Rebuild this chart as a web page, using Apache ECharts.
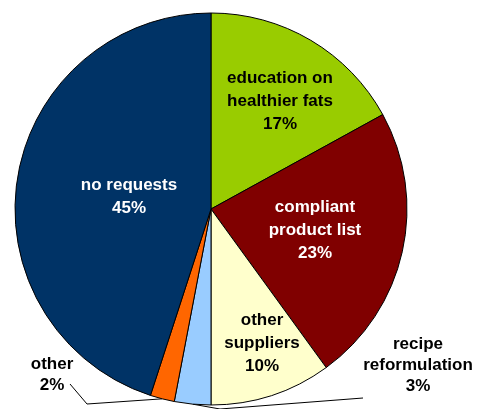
<!DOCTYPE html>
<html>
<head>
<meta charset="utf-8">
<script src="https://cdn.jsdelivr.net/npm/echarts@6/dist/echarts.min.js"></script>
<style>
  html, body { margin: 0; padding: 0; background: #fff; }
  #chart { width: 484px; height: 409px; }
</style>
</head>
<body>
<div id="chart"></div>
<script>
// slices clockwise from 12 o'clock
const categories = [
  'education on\nhealthier fats',
  'compliant\nproduct list',
  'other\nsuppliers',
  'recipe\nreformulation',
  'other',
  'no requests'
]
const shares = [17, 23, 10, 3, 2, 45]
const colors = ['#99cc00', '#800000', '#ffffcc', '#99ccff', '#ff6600', '#003366']
const textColors = ['#000', '#fff', '#000', '#000', '#000', '#fff']
const outside = [false, false, false, true, true, false]

// where each label sits (px), and the bend points of the two leader lines
const labelPos = [[280, 101], [315, 230], [262, 343], [418, 365], [52, 375], [129, 197]]
const linePts = { 3: [[220, 409], [363, 398]], 4: [[87, 404], [70, 384]] }

const chart = echarts.init(document.getElementById('chart'))

chart.setOption({
  animation: false,
  series: [{
    type: 'pie',
    center: [211, 209],
    radius: 196,
    startAngle: 90,
    clockwise: true,
    itemStyle: { borderColor: '#000', borderWidth: 1 },
    label: {
      fontFamily: 'Liberation Sans, Arial, sans-serif',
      fontWeight: 'bold',
      fontSize: 17,
      lineHeight: 23,
      align: 'center',
      overflow: 'none',
      formatter: '{b}\n{c}%'
    },
    labelLine: { lineStyle: { color: '#000', width: 1 }, length: 10, length2: 10 },
    labelLayout: function (params) {
      const i = params.dataIndex
      const res = { x: labelPos[i][0], y: labelPos[i][1], align: 'center', verticalAlign: 'middle' }
      if (linePts[i] && params.labelLinePoints) {
        res.labelLinePoints = [params.labelLinePoints[0]].concat(linePts[i])
      }
      return res
    },
    data: categories.map((name, i) => ({
      name: name,
      value: shares[i],
      itemStyle: { color: colors[i] },
      label: {
        position: outside[i] ? 'outside' : 'inside',
        color: textColors[i],
        overflow: 'none',
        lineHeight: outside[i] ? 21 : 23
      },
      labelLine: { show: outside[i] }
    }))
  }]
})
</script>
</body>
</html>
